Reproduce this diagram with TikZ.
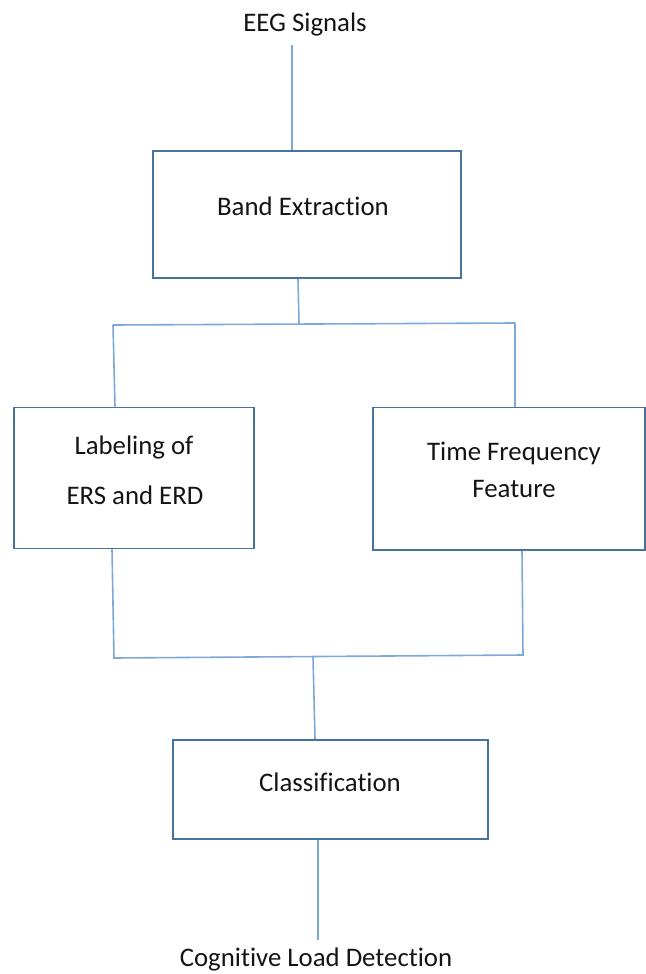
\documentclass[tikz,border=0pt]{standalone}
\usepackage{fontspec}
\setmainfont{Carlito}[RawFeature={-liga;-clig;-dlig;-calt;-rlig}]
\definecolor{boxc}{RGB}{70,114,160}
\definecolor{linec}{RGB}{125,168,218}
\definecolor{txt}{RGB}{20,20,20}
\begin{document}
\begin{tikzpicture}[x=0.5pt,y=-0.5pt,
  box/.style={draw=boxc,line width=0.8pt,rectangle,inner sep=0pt},
  conn/.style={draw=linec,line width=0.8pt},
  lbl/.style={text=txt,font=\fontsize{13.4}{16}\selectfont,inner sep=0pt,anchor=center}]
\useasboundingbox (0,0) rectangle (646,974);
% boxes
\node[box,minimum width=154pt,minimum height=63.5pt] (band) at (307,214.5) {};
\node[box,minimum width=120pt,minimum height=70.5pt] (lab) at (134,478) {};
\node[box,minimum width=136pt,minimum height=71.25pt] (tf) at (509,478.75) {};
\node[box,minimum width=157.5pt,minimum height=49.5pt] (cls) at (330.5,789.5) {};
% texts
\node[lbl] (eeg) at (305,25) {EEG Signals};
\node[lbl] (bandt) at (303,206) {Band Extraction};
\node[lbl] (labt1) at (134,447) {Labeling of};
\node[lbl] (labt2) at (135,495) {ERS and ERD};
\node[lbl] (tft1) at (514,453) {Time Frequency};
\node[lbl] (tft2) at (514,489) {Feature};
\node[lbl] (clst) at (330,782) {Classification};
\node[lbl] (cog) at (316,959) {Cognitive Load Detection};
% junction coordinates
\coordinate (e1) at (292,45);
\coordinate (j1) at (299,324);
\coordinate (jl) at (113,325);
\coordinate (jr) at (515,323);
\coordinate (kl) at (114,658);
\coordinate (kr) at (523,655);
\coordinate (k1) at (313,657);
\coordinate (c1) at (318,940);
% connectors
\draw[conn] (e1) -- (e1 |- band.north);
\draw[conn] ([xshift=-4.5pt]band.south) -- (j1);
\draw[conn] (jl) -- (jr);
\draw[conn] (jl) -- ([xshift=-9.5pt]lab.north);
\draw[conn] (jr) -- (jr |- tf.north);
\draw[conn] ([xshift=-11pt]lab.south) -- (kl) -- (kr) -- ([xshift=6.5pt]tf.south);
\draw[conn] (k1) -- ([xshift=-7.75pt]cls.north);
\draw[conn] ([xshift=-6.25pt]cls.south) -- (c1);
\end{tikzpicture}
\end{document}
